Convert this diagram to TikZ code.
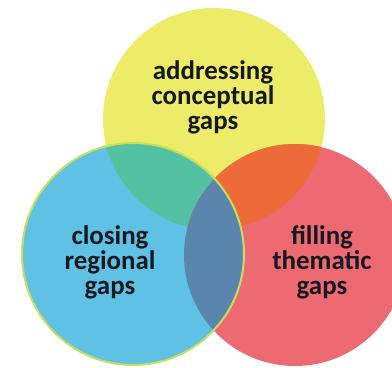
\documentclass[tikz,border=0pt]{standalone}
\usepackage{fontspec}
\setmainfont{Carlito}
\definecolor{vyellow}{HTML}{EDEC68}
\definecolor{vblue}{HTML}{5FC2E4}
\definecolor{vred}{HTML}{EE6A72}
\definecolor{vteal}{HTML}{52C2A2}
\definecolor{vorange}{HTML}{EC6B38}
\definecolor{vslate}{HTML}{5A86AE}
\definecolor{vrim}{HTML}{C6DE5C}
\definecolor{vtext}{HTML}{141820}
\begin{document}
\begin{tikzpicture}[x=1bp,y=-1bp]
    \tikzset{ring/.style={circle,inner sep=0pt,minimum size=222bp},
    lbl/.style={align=center,text=vtext,font=\fontsize{27}{25}\selectfont\bfseries}}
    \useasboundingbox[fill=white] (0,0) rectangle (392,368);
    \node[ring,fill=vyellow] (yel) at (214,119) {};%conceptual
    \node[ring,fill=vred] (red) at (295,255) {};%thematic
    \node[ring,fill=vblue] (blu) at (133,254) {};%regional
    % overlaps
    \begin{scope}
      \clip (yel.center) circle (111);
      \fill[vteal] (blu.center) circle (111);
    \end{scope}
    \begin{scope}
      \clip (yel.center) circle (111);
      \fill[vorange] (red.center) circle (111);
    \end{scope}
    \begin{scope}
      \clip (blu.center) circle (111);
      \fill[vslate] (red.center) circle (111);
    \end{scope}
    \draw[vrim,line width=2bp] (blu.center) circle (111);

    \node[lbl] (tc) at (213,97) {addressing\\conceptual\\gaps};
    \node[lbl] (tr) at (110,262) {closing\\regional\\gaps};
    \node[lbl] (tt) at (322,262) {filling\\thematic\\gaps};
\end{tikzpicture}
\end{document}
